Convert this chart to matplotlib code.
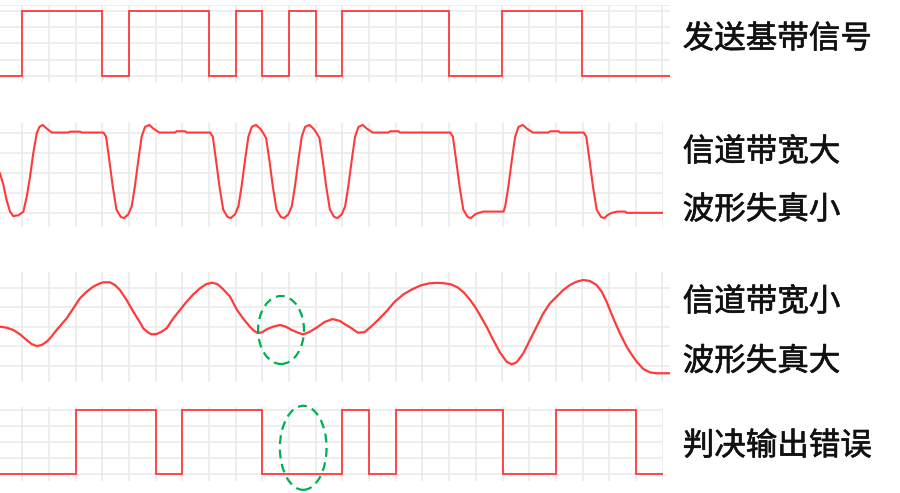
import numpy as np
import matplotlib
matplotlib.use("Agg")
import matplotlib.pyplot as plt
from matplotlib.patches import Ellipse
import matplotlib.patheffects as pe

plt.rcParams['font.family'] = ['Noto Sans CJK SC', 'DejaVu Sans']

# ---------------- data ----------------
n_bits = 24
lead_level = 0
sent_bits = [1, 1, 1, 0, 1, 1, 1, 0, 1, 0, 1, 0, 1, 1, 1, 1, 0, 0, 1, 1, 1, 0, 0, 0]
recv_bits = [0, 0, 1, 1, 1, 0, 1, 1, 1, 0, 0, 0, 1, 0, 1, 1, 1, 1, 0, 0, 1, 1, 1, 0]

# wide-band channel output (time in bit periods, amplitude)
wide_t = [-0.836, -0.71, -0.59, -0.46, -0.34, -0.15, 0.04, 0.165, 0.29, 0.41, 0.54, 0.64, 0.765, 0.915, 1.1,
          1.72, 1.79, 2.16, 2.23,
          3.04, 3.14, 3.26, 3.39, 3.53, 3.69, 3.81, 3.97,
          4.1, 4.22, 4.35, 4.475, 4.6, 4.76, 4.91, 5.135, 5.72, 5.79, 6.1, 6.16,
          7.04, 7.14, 7.26, 7.39, 7.53, 7.69, 7.81, 7.97,
          8.1, 8.22, 8.35, 8.475, 8.6, 8.76, 8.91, 9.02,
          9.14, 9.26, 9.39, 9.53, 9.69, 9.81, 9.97,
          10.1, 10.22, 10.35, 10.475, 10.6, 10.76, 10.91, 11.02,
          11.14, 11.26, 11.39, 11.53, 11.69, 11.81, 11.97,
          12.1, 12.22, 12.35, 12.475, 12.6, 12.76, 12.91, 13.135, 13.72, 13.79, 14.1, 14.16,
          16.04, 16.14, 16.26, 16.39, 16.53, 16.69, 16.81, 16.97, 17.1, 17.3, 18.04,
          18.1, 18.22, 18.35, 18.475, 18.6, 18.76, 18.91, 19.135, 19.72, 19.79, 20.1, 20.16,
          21.04, 21.14, 21.26, 21.39, 21.53, 21.69, 21.81, 21.97, 22.1, 22.3, 22.6, 22.65, 24.0]
wide_v = [0.49, 0.35, 0.16, 0.015, -0.04, -0.03, 0.015, 0.2, 0.45, 0.74, 0.99, 1.07, 1.095, 1.05, 1.0,
          1.0, 1.011, 1.011, 1.0,
          1.0, 0.95, 0.66, 0.33, 0.04, -0.05, -0.065, -0.02,
          0.08, 0.33, 0.66, 0.95, 1.07, 1.095, 1.05, 1.0, 1.0, 1.016, 1.016, 1.0,
          1.0, 0.95, 0.66, 0.33, 0.04, -0.05, -0.065, -0.02,
          0.08, 0.33, 0.66, 0.95, 1.07, 1.095, 1.05, 1.0,
          0.93, 0.66, 0.33, 0.04, -0.05, -0.065, -0.02,
          0.08, 0.33, 0.66, 0.95, 1.07, 1.095, 1.05, 1.0,
          0.93, 0.66, 0.33, 0.04, -0.05, -0.065, -0.02,
          0.08, 0.33, 0.66, 0.95, 1.07, 1.095, 1.05, 1.0, 1.0, 1.016, 1.016, 1.0,
          1.0, 0.95, 0.66, 0.33, 0.04, -0.05, -0.065, -0.02, 0.0, 0.016, 0.016,
          0.08, 0.33, 0.66, 0.95, 1.07, 1.095, 1.05, 1.0, 1.0, 1.016, 1.016, 1.0,
          1.0, 0.95, 0.66, 0.33, 0.04, -0.05, -0.065, -0.02, 0.0, 0.016, 0.016, 0.0, 0.0]

# narrow-band channel output
narrow_t = [-0.836, -0.586, -0.336, -0.086, 0.164, 0.351, 0.538, 0.726, 0.913, 1.038, 1.288, 1.663, 1.912,
            2.162, 2.412, 2.662, 2.85, 3.037, 3.287, 3.474, 3.661, 3.911, 4.161, 4.41, 4.535, 4.722, 4.847,
            5.035, 5.222, 5.41, 5.66, 5.91, 6.16, 6.41, 6.66, 6.9, 7.11, 7.31, 7.5, 7.78, 8.04, 8.29, 8.53,
            8.68, 8.83, 9.0, 9.16, 9.4, 9.66, 9.88, 10.1, 10.32, 10.53, 10.75, 11.03, 11.33, 11.63, 11.9,
            12.1, 12.3, 12.58, 12.83, 13.07, 13.31, 13.64, 13.96, 14.29, 14.61, 14.94, 15.26, 15.5, 15.75,
            16.07, 16.32, 16.56, 16.81, 17.0, 17.155, 17.405, 17.655, 17.905, 18.155, 18.342, 18.53, 18.78,
            19.03, 19.28, 19.53, 19.78, 20.03, 20.28, 20.53, 20.78, 21.03, 21.28, 21.53, 21.72, 21.905,
            22.155, 22.405, 22.655, 22.84, 23.03, 23.28, 23.53, 23.78, 24.28]
narrow_v = [0.5, 0.487, 0.458, 0.402, 0.329, 0.278, 0.252, 0.265, 0.308, 0.351, 0.458, 0.607, 0.735,
            0.864, 0.949, 1.013, 1.047, 1.069, 1.069, 1.034, 0.97, 0.842, 0.692, 0.556, 0.479, 0.424, 0.402,
            0.406, 0.436, 0.479, 0.607, 0.714, 0.82, 0.915, 0.992, 1.047, 1.064, 1.047, 0.99, 0.89, 0.72, 0.6, 0.5,
            0.45, 0.418, 0.43, 0.466, 0.5, 0.522, 0.5, 0.458, 0.425, 0.402, 0.43, 0.487, 0.56, 0.598, 0.575,
            0.53, 0.49, 0.423, 0.43, 0.5, 0.577, 0.692, 0.82, 0.915, 0.979, 1.03, 1.056, 1.062, 1.06,
            1.043, 1.004, 0.936, 0.834, 0.74, 0.65, 0.5, 0.329, 0.171, 0.052, 0.017, 0.043, 0.158,
            0.329, 0.5, 0.671, 0.8, 0.885, 0.97, 1.035, 1.077, 1.099, 1.086, 1.035, 0.949, 0.821,
            0.607, 0.415, 0.244, 0.145, 0.052, -0.042, -0.085, -0.097, -0.097]

labels = ["发送基带信号", "信道带宽大", "波形失真小", "信道带宽小", "波形失真大", "判决输出错误"]

# error-marking ellipses: (center t, center v, width, height)
mark3 = (9.70, 0.458, 1.72, 0.872)
mark4 = (10.53, 0.412, 1.75, 1.306)

# ---------------- style ----------------
RED = '#ff3a3a'
GRID = '#e9e9e9'
GREEN = '#00b050'

fig = plt.figure(figsize=(9.0, 4.93), dpi=100)

x_left = -0.836
panels = [
    ([0.0, 0.8343, 0.7444, 0.1562], 24.28, (-0.087, 1.092)),
    ([0.0, 0.5402, 0.7362, 0.2110], 24.0, (-0.172, 1.123)),
    ([0.0, 0.2245, 0.7444, 0.2231], 24.28, (-0.213, 1.197)),
    ([0.0, 0.0243, 0.7362, 0.1507], 24.0, (-0.104, 1.051)),
]
axes = []
for rect, xr, yl in panels:
    ax = fig.add_axes(rect)
    ax.set_xlim(x_left, xr)
    ax.set_ylim(*yl)
    ax.set_xticks(np.arange(0, n_bits + 1))
    ax.set_yticks([0, 0.25, 0.5, 0.75, 1.0])
    ax.grid(True, color=GRID, lw=1.1)
    ax.set_axisbelow(True)
    ax.tick_params(length=0, labelbottom=False, labelleft=False)
    for s in ax.spines.values():
        s.set_visible(False)
    ax.patch.set_alpha(0)
    axes.append(ax)

axes[0].axhline(1.085, color=GRID, lw=1.1, zorder=0)

def step_wave(ax, bits, x_end):
    xs = np.r_[x_left, np.arange(len(bits)), x_end]
    ys = np.r_[lead_level, bits, bits[-1]]
    ax.step(xs, ys, where='post', color=RED, lw=1.3, solid_joinstyle='miter')

step_wave(axes[0], sent_bits, 24.28)
axes[1].plot(wide_t, wide_v, color=RED, lw=1.5, solid_joinstyle='round')
axes[2].plot(narrow_t, narrow_v, color=RED, lw=1.6, solid_joinstyle='round')
step_wave(axes[3], recv_bits, 24.0)

for ax, (cx, cy, w, h) in ((axes[2], mark3), (axes[3], mark4)):
    e = Ellipse((cx, cy), w, h, fill=False, edgecolor=GREEN, lw=1.6,
                linestyle=(0, (4, 2.5)), clip_on=False, zorder=5)
    ax.add_patch(e)

label_y = [39, 152, 210, 302, 361.5, 446]
for txt, yp in zip(labels, label_y):
    fig.text(682.7 / 900, 1 - yp / 493, txt, ha='left', va='center',
             fontsize=22.7, color='#111111', fontweight='normal',
             path_effects=[pe.withStroke(linewidth=0.45, foreground='#111111')])

fig.savefig('out.png', dpi=100)
